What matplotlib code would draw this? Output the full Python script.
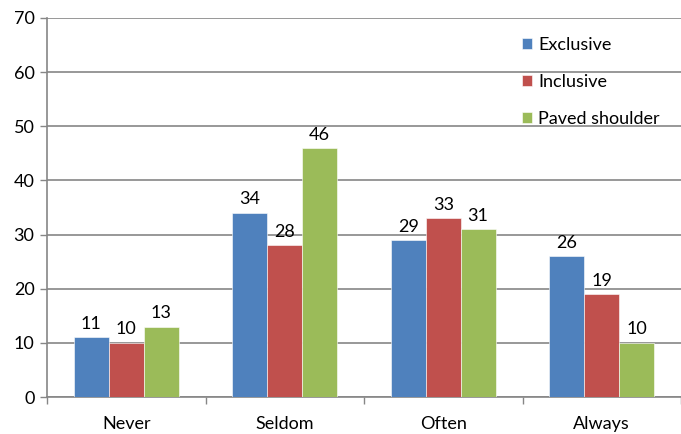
import matplotlib
matplotlib.use("Agg")
import matplotlib.pyplot as plt
import numpy as np

categories = ["Never", "Seldom", "Often", "Always"]
series_names = ["Exclusive", "Inclusive", "Paved shoulder"]
exclusive = [11, 34, 29, 26]
inclusive = [10, 28, 33, 19]
paved = [13, 46, 31, 10]
colors = ["#4F81BD", "#C0504D", "#9BBB59"]

plt.rcParams['font.family'] = ['Lato', 'DejaVu Sans']

fig = plt.figure(figsize=(6.81, 4.34), dpi=100)
ax = fig.add_axes([47/681, 37/434, 1 - 47/681, (397-18)/434])

x = np.arange(len(categories))
w = 0.22
for i, (vals, name, c) in enumerate(zip([exclusive, inclusive, paved], series_names, colors)):
    pos = x + (i - 1) * w
    ax.bar(pos, vals, w, color=c, label=name, zorder=3, edgecolor='white', linewidth=0.4)
    for p, v in zip(pos, vals):
        ax.text(p, v + 1.0, str(v), ha='center', va='bottom', fontsize=13, color='black')

ax.set_ylim(0, 70)
ax.set_yticks(range(0, 71, 10))
ax.set_xlim(-0.5, -0.5 + (681 - 47) / 161)
ax.set_xticks(x)
ax.set_xticklabels(categories, fontsize=13)
ax.set_xticks(np.arange(-0.5, 4, 1), minor=True)
ax.tick_params(axis='x', which='major', length=0, pad=14)
ax.tick_params(axis='x', which='minor', length=5, width=1, color='#868686', direction='out')
ax.tick_params(axis='y', length=5, width=1, color='#868686', labelsize=13, pad=4)

ax.yaxis.grid(True, color='#868686', linewidth=1.2, zorder=0)
ax.set_axisbelow(True)
for s in ['top', 'right']:
    ax.spines[s].set_visible(False)
for s in ['left', 'bottom']:
    ax.spines[s].set_color('#868686')
    ax.spines[s].set_linewidth(1.2)

leg = ax.legend(loc='upper left', bbox_to_anchor=(522/681, (434-37)/434),
                bbox_transform=fig.transFigure, frameon=False, fontsize=13,
                handlelength=0.55, handleheight=0.55, handletextpad=0.35,
                labelspacing=1.15, borderpad=0, borderaxespad=0)

fig.savefig("out.png", dpi=100)
